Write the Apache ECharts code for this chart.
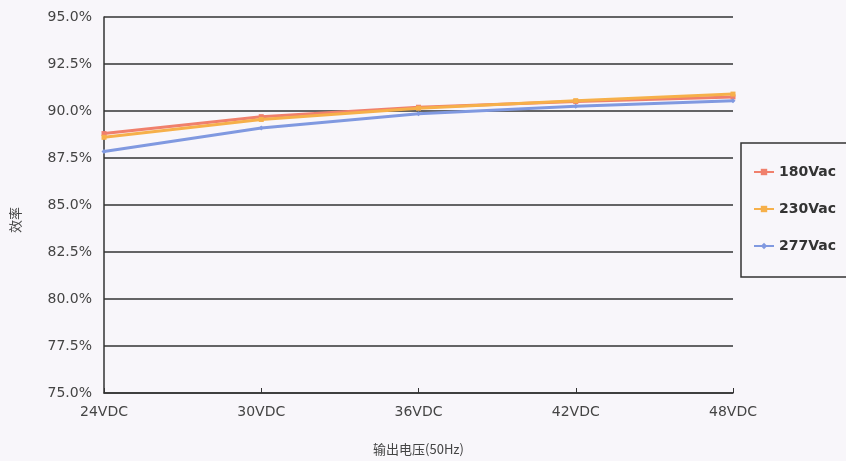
<!DOCTYPE html>
<html><head><meta charset="utf-8">
<script src="https://cdn.jsdelivr.net/npm/echarts@6/dist/echarts.min.js"></script>
<style>html,body{margin:0;padding:0;background:#f8f6fa;}#c{width:846px;height:461px;}</style>
</head><body><div id="c"></div>
<script>
const categories = ['24VDC','30VDC','36VDC','42VDC','48VDC'];
const s180 = [88.8, 89.7, 90.2, 90.5, 90.75];
const s230 = [88.6, 89.55, 90.15, 90.55, 90.9];
const s277 = [87.85, 89.1, 89.85, 90.25, 90.55];
const seriesNames = ['180Vac','230Vac','277Vac'];
const colors = ['#f0806c','#f6b04a','#8099e0'];

const chart = echarts.init(document.getElementById('c'));
const font = '"DejaVu Sans", "Noto Sans CJK SC", sans-serif';
const cjk = '"Noto Sans CJK SC", sans-serif';
const mk = (name, data, color, sym) => ({
  name, type:'line', data, color,
  symbol: sym, symbolSize: 5,
  lineStyle:{width:3, color},
  itemStyle:{color}
});
chart.setOption({
  backgroundColor:'#f8f6fa',
  animation:false,
  grid:{left:104, right:113, top:17, bottom:68},
  legend:{
    orient:'vertical', left:741, top:143,
    data: seriesNames,
    itemWidth:20, itemHeight:8, itemGap:23,
    padding:[22,30,24,12],
    borderColor:'#333', borderWidth:1.5,
    textStyle:{fontFamily:font, fontSize:14, color:'#333', fontWeight:'bold'}
  },
  xAxis:{
    type:'category', data:categories, boundaryGap:false,
    name:'输出电压(50Hz)', nameLocation:'middle', nameGap:50,
    nameTextStyle:{fontFamily:cjk, fontSize:13, color:'#444'},
    axisLine:{lineStyle:{color:'#333', width:1.5}},
    axisTick:{show:true, inside:true, length:5, lineStyle:{color:'#333'}},
    axisLabel:{fontFamily:font, fontSize:14, color:'#444', margin:12}
  },
  yAxis:{
    type:'value', min:75, max:95, interval:2.5,
    name:'效率', nameLocation:'middle', nameGap:82, nameRotate:90,
    nameTextStyle:{fontFamily:cjk, fontSize:13, color:'#444', padding:[0,0,0,-30]},
    axisLine:{show:true, lineStyle:{color:'#333', width:1.5}},
    axisTick:{show:false},
    splitLine:{lineStyle:{color:'#333', width:1.5}},
    axisLabel:{fontFamily:font, fontSize:14, color:'#444', margin:12,
      formatter: v => v.toFixed(1) + '%'}
  },
  series:[
    mk(seriesNames[0], s180, colors[0], 'rect'),
    mk(seriesNames[1], s230, colors[1], 'rect'),
    mk(seriesNames[2], s277, colors[2], 'diamond')
  ]
});
</script></body></html>
